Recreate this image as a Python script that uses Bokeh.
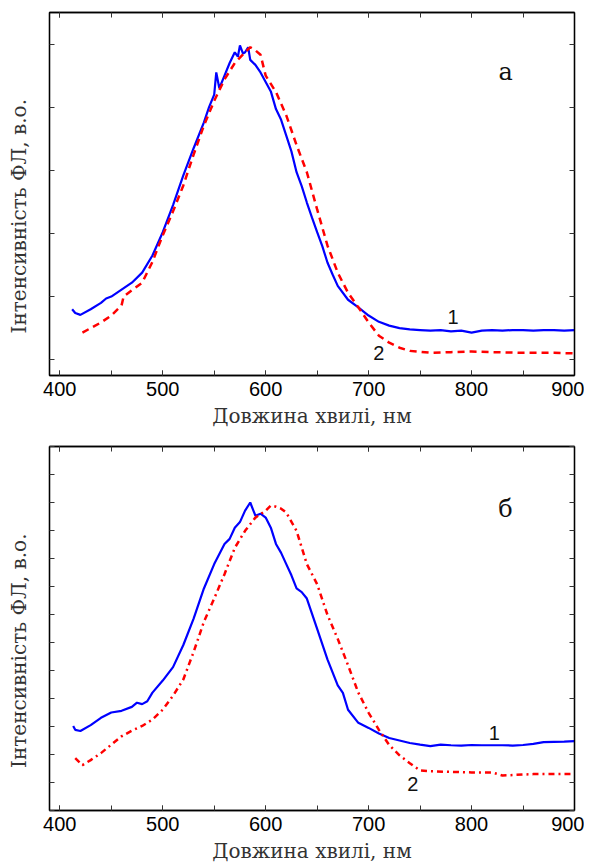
from bokeh.plotting import figure
from bokeh.layouts import column
from bokeh.models import LinearAxis, SingleIntervalTicker, Range1d
from bokeh.core.properties import value
from bokeh.embed import file_html
from bokeh.resources import INLINE

# ---- panel a ----
a_x1 = [412, 415, 420, 430, 440, 445, 450, 460, 470, 480, 490, 500, 510, 520, 530, 540, 545, 550, 552, 555, 560, 565, 570, 573, 575, 578, 580, 583, 585, 590, 595, 600, 605, 610, 615, 620, 625, 630, 635, 640, 645, 650, 655, 660, 665, 670, 680, 690, 700, 710, 720, 730, 740, 750, 760, 770, 780, 790, 800, 810, 820, 830, 840, 850, 860, 870, 880, 890, 900]
a_y1 = [0.80, 0.74, 0.71, 0.80, 0.90, 0.97, 1.00, 1.11, 1.22, 1.38, 1.65, 2.02, 2.45, 2.92, 3.35, 3.76, 4.00, 4.20, 4.55, 4.30, 4.50, 4.70, 4.87, 4.80, 4.98, 4.85, 4.87, 4.95, 4.75, 4.67, 4.55, 4.40, 4.25, 3.97, 3.80, 3.55, 3.30, 2.97, 2.75, 2.49, 2.25, 2.02, 1.80, 1.54, 1.35, 1.17, 0.95, 0.83, 0.70, 0.60, 0.54, 0.50, 0.48, 0.47, 0.46, 0.47, 0.45, 0.46, 0.43, 0.46, 0.47, 0.46, 0.47, 0.47, 0.46, 0.47, 0.47, 0.46, 0.47]
a_x2 = [422, 430, 440, 450, 460, 462, 470, 480, 490, 500, 510, 520, 530, 540, 550, 560, 570, 580, 585, 590, 595, 600, 610, 620, 630, 640, 650, 660, 670, 680, 690, 700, 710, 720, 730, 740, 760, 780, 800, 820, 850, 880, 900]
a_y2 = [0.43, 0.50, 0.59, 0.70, 0.86, 1.00, 1.10, 1.22, 1.55, 1.97, 2.35, 2.76, 3.25, 3.71, 4.10, 4.44, 4.70, 4.87, 4.95, 4.90, 4.83, 4.50, 4.24, 3.87, 3.40, 2.97, 2.38, 1.81, 1.38, 1.06, 0.83, 0.59, 0.38, 0.27, 0.19, 0.14, 0.11, 0.12, 0.13, 0.12, 0.11, 0.11, 0.10]

# ---- panel б ----
b_x1 = [413, 415, 420, 430, 440, 450, 460, 470, 475, 480, 485, 490, 500, 510, 520, 530, 540, 550, 560, 565, 570, 575, 580, 585, 590, 595, 600, 605, 610, 615, 620, 625, 630, 635, 640, 650, 660, 670, 675, 680, 690, 700, 710, 720, 730, 740, 750, 760, 770, 780, 790, 800, 810, 820, 830, 840, 850, 860, 870, 880, 890, 900]
b_y1 = [2.02, 1.88, 1.84, 2.05, 2.31, 2.50, 2.56, 2.70, 2.85, 2.80, 2.90, 3.21, 3.64, 4.12, 4.91, 5.85, 6.93, 7.80, 8.52, 8.70, 9.10, 9.30, 9.71, 10.0, 9.53, 9.60, 9.46, 9.10, 8.52, 8.20, 7.80, 7.40, 6.93, 6.80, 6.57, 5.49, 4.40, 3.47, 3.20, 2.60, 2.13, 1.95, 1.75, 1.59, 1.50, 1.41, 1.35, 1.30, 1.35, 1.33, 1.32, 1.34, 1.33, 1.33, 1.33, 1.32, 1.34, 1.38, 1.44, 1.45, 1.46, 1.48]
b_x2 = [415, 422, 430, 440, 450, 460, 470, 480, 490, 500, 510, 520, 530, 540, 550, 560, 570, 580, 590, 600, 605, 610, 615, 620, 630, 640, 650, 660, 670, 680, 690, 700, 710, 720, 730, 740, 750, 760, 780, 800, 820, 830, 860, 900]
b_y2 = [0.87, 0.62, 0.80, 1.05, 1.35, 1.65, 1.85, 2.02, 2.25, 2.60, 3.10, 3.68, 4.66, 5.74, 6.57, 7.44, 8.38, 8.99, 9.46, 9.71, 9.89, 9.85, 9.78, 9.64, 8.99, 7.80, 7.08, 5.99, 5.13, 4.19, 3.21, 2.49, 1.88, 1.34, 0.97, 0.69, 0.43, 0.40, 0.38, 0.36, 0.36, 0.25, 0.30, 0.30]

x_ticks_interval = 100
x_label = "Довжина хвилі, нм"
y_label = "Інтенсивність ФЛ, в.о." + "\u00a0" * 7

SERIF = "DejaVu Serif"
SANS = "Liberation Sans"


def style_axis(ax, show_labels):
    ax.major_tick_in = 5
    ax.major_tick_out = 0
    ax.minor_tick_in = 5
    ax.minor_tick_out = 0
    ax.axis_line_width = 1.3
    ax.axis_line_color = "black"
    ax.major_tick_line_color = "#333333"
    ax.minor_tick_line_color = "#333333"
    ax.major_label_text_font = SANS
    if show_labels:
        ax.major_label_text_font_size = "20px"
        ax.major_label_text_color = "black"
    else:
        ax.major_label_text_font_size = "0px"
        ax.major_label_text_color = None
    ax.axis_label_text_font = SERIF
    ax.axis_label_text_font_size = "20px"
    ax.axis_label_text_font_style = "normal"
    ax.axis_label_text_color = "#333333"


def make_panel(x1, y1, x2, y2, ymin, ymax, height, btop, dash, labels):
    p = figure(width=584, height=height, output_backend="svg", toolbar_location=None,
               x_range=Range1d(390, 900), y_range=Range1d(ymin, ymax),
               min_border_left=49, min_border_right=10, min_border_top=btop, min_border_bottom=40,
               x_axis_location=None, y_axis_location=None)
    p.grid.visible = False
    p.outline_line_color = "black"
    p.outline_line_width = 1.3

    xb = LinearAxis(ticker=SingleIntervalTicker(interval=x_ticks_interval, num_minor_ticks=2), axis_label=x_label)
    style_axis(xb, True)
    xb.major_label_standoff = 6
    xb.axis_label_standoff = 5
    p.add_layout(xb, "below")
    xt = LinearAxis(ticker=SingleIntervalTicker(interval=x_ticks_interval, num_minor_ticks=2))
    style_axis(xt, False)
    p.add_layout(xt, "above")

    yl = LinearAxis(ticker=SingleIntervalTicker(interval=1, num_minor_ticks=0), axis_label=y_label)
    style_axis(yl, False)
    yl.axis_label_standoff = 19
    p.add_layout(yl, "left")
    yr = LinearAxis(ticker=SingleIntervalTicker(interval=1, num_minor_ticks=0))
    style_axis(yr, False)
    p.add_layout(yr, "right")

    p.line(x1, y1, line_color="#0000ff", line_width=2.2)
    p.line(x2, y2, line_color="#ff0000", line_width=2.5, line_dash=dash)

    for (tx, ty, t, font, size) in labels:
        p.text(x=[tx], y=[ty], text=[t], text_font=value(font), text_font_size=size,
               text_align="center", text_baseline="middle", text_color="#111111")
    return p


pa = make_panel(a_x1, a_y1, a_x2, a_y2, -0.25, 5.5, 430, 12, "7 5",
                [(782, 0.67, "1", SANS, "20px"), (710, 0.11, "2", SANS, "20px"), (833, 4.56, "а", SERIF, "24px")])
pb = make_panel(b_x1, b_y1, b_x2, b_y2, -1, 12, 435, 16, "dashdot",
                [(822, 1.77, "1", SANS, "20px"), (743, -0.04, "2", SANS, "20px"), (833, 9.78, "б", SERIF, "24px")])

layout = column(pa, pb, spacing=0)
open("out.html", "w").write(file_html(layout, INLINE))
